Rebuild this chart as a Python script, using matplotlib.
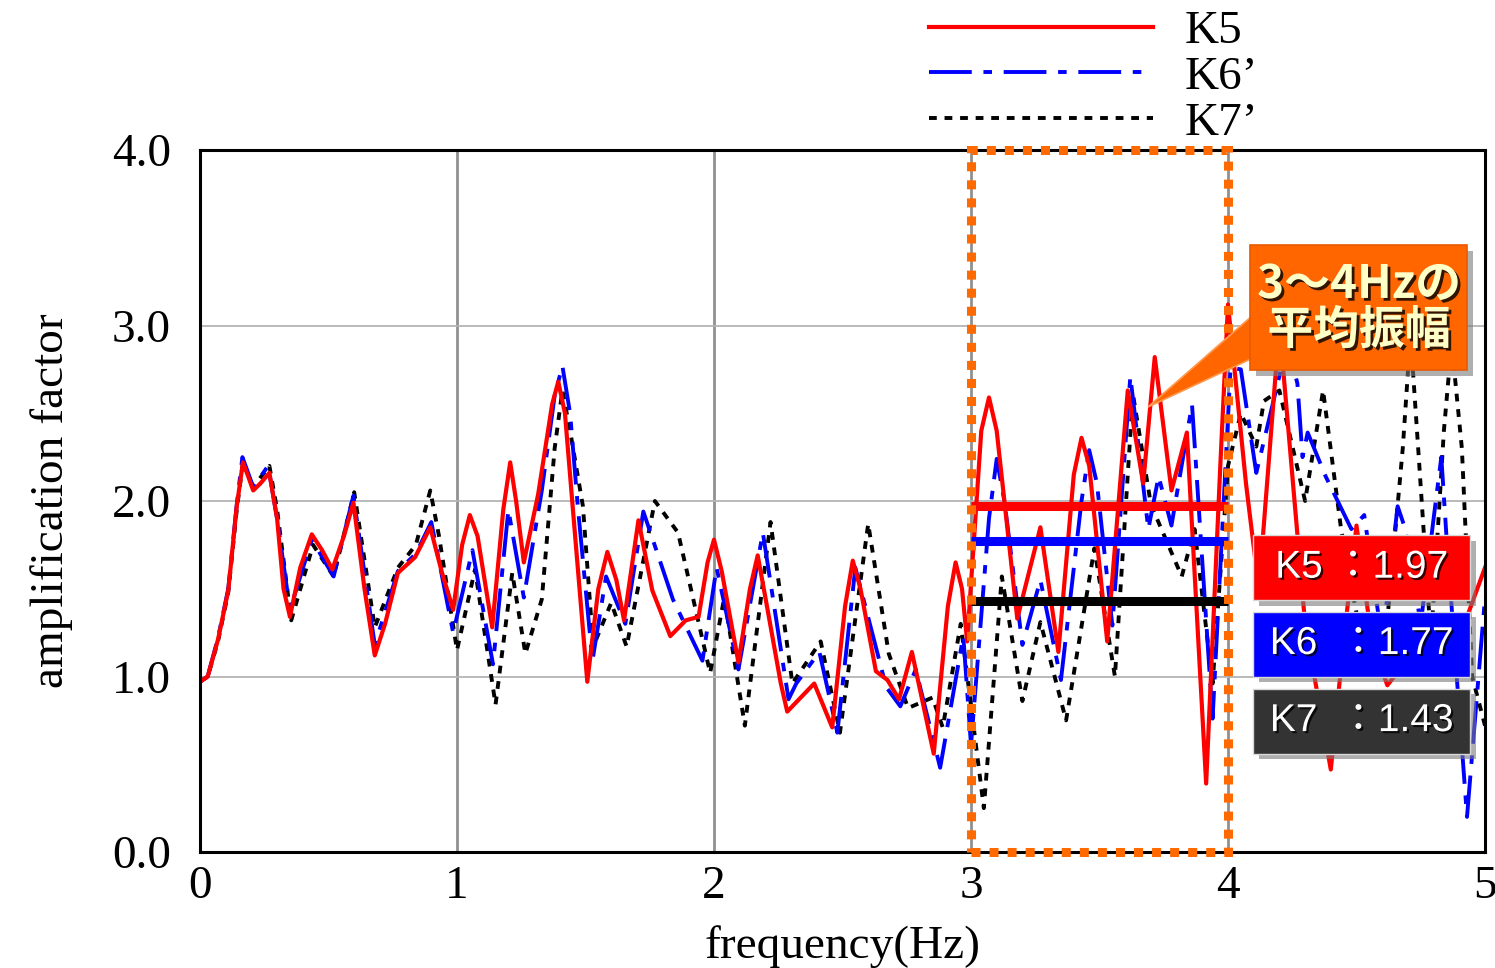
import matplotlib
matplotlib.use('Agg')
import matplotlib.pyplot as plt
import matplotlib.patheffects as pe
from matplotlib.patches import Rectangle, Polygon

plt.rcParams['font.family'] = ['Liberation Serif', 'Noto Sans CJK JP', 'DejaVu Sans']

# K5 (red, solid)
k5_f = [0.0, 0.03, 0.07, 0.11, 0.143, 0.167, 0.185, 0.207, 0.235, 0.27, 0.3, 0.325, 0.35, 0.39,
        0.435, 0.475, 0.515, 0.56, 0.597, 0.64, 0.68, 0.72, 0.77, 0.837, 0.896, 0.94, 0.985,
        1.02, 1.05, 1.08, 1.137, 1.18, 1.207, 1.23, 1.26, 1.316, 1.37, 1.394, 1.42, 1.45,
        1.507, 1.55, 1.585, 1.62, 1.65, 1.706, 1.76, 1.83, 1.89, 1.94, 1.975, 2.0, 2.03,
        2.095, 2.14, 2.17, 2.2, 2.26, 2.285, 2.39, 2.46, 2.51, 2.54, 2.57, 2.63, 2.675, 2.72,
        2.77, 2.855, 2.91, 2.94, 2.965, 2.985, 3.04, 3.07, 3.1, 3.18, 3.27, 3.34, 3.40, 3.43,
        3.46, 3.53, 3.61, 3.67, 3.715, 3.78, 3.84, 3.915, 3.97, 4.0, 4.07, 4.12, 4.2, 4.3,
        4.4, 4.45, 4.5, 4.56, 4.62, 4.7, 4.78, 4.85, 4.92, 5.0]
k5_a = [0.97, 1.0, 1.21, 1.49, 1.97, 2.22, 2.15, 2.06, 2.1, 2.16, 1.9, 1.5, 1.34, 1.62,
        1.81, 1.72, 1.61, 1.8, 1.99, 1.5, 1.12, 1.3, 1.59, 1.68, 1.85, 1.6, 1.38,
        1.75, 1.92, 1.8, 1.28, 1.95, 2.22, 2.0, 1.65, 2.04, 2.55, 2.68, 2.5, 1.97,
        0.97, 1.5, 1.71, 1.55, 1.32, 1.89, 1.49, 1.23, 1.32, 1.34, 1.65, 1.78, 1.6,
        1.08, 1.5, 1.69, 1.45, 0.96, 0.8, 0.96, 0.71, 1.4, 1.66, 1.5, 1.03, 0.98, 0.87,
        1.14, 0.56, 1.4, 1.65, 1.5, 1.2, 2.4, 2.59, 2.4, 1.33, 1.85, 1.14, 2.15, 2.36,
        2.2, 1.2, 2.63, 2.1, 2.82, 2.06, 2.39, 0.39, 2.2, 3.12, 2.1, 1.5, 3.0, 1.3,
        0.47, 1.2, 1.86, 1.2, 0.95, 1.1, 1.35, 1.05, 1.3, 1.62]

# K6' (blue, dash-dot)
k6_f = [0.0, 0.03, 0.07, 0.11, 0.143, 0.165, 0.207, 0.265, 0.3, 0.35, 0.435, 0.52, 0.597,
        0.68, 0.77, 0.84, 0.9, 0.985, 1.06, 1.14, 1.2, 1.26, 1.33, 1.38, 1.41, 1.44, 1.47,
        1.527, 1.58, 1.655, 1.725, 1.84, 1.955, 2.01, 2.095, 2.19, 2.29, 2.32, 2.41, 2.48,
        2.55, 2.67, 2.725, 2.785, 2.88, 2.97, 3.0, 3.07, 3.1, 3.13, 3.2, 3.27, 3.35, 3.43,
        3.46, 3.49, 3.55, 3.62, 3.69, 3.73, 3.78, 3.86, 3.94, 4.01, 4.05, 4.11, 4.19, 4.23,
        4.27, 4.29, 4.31, 4.38, 4.48, 4.53, 4.6, 4.66, 4.69, 4.75, 4.8, 4.83, 4.85, 4.93, 5.0]
k6_a = [0.97, 1.0, 1.22, 1.5, 1.98, 2.25, 2.08, 2.2, 1.9, 1.38, 1.78, 1.57, 2.03,
        1.18, 1.6, 1.7, 1.88, 1.25, 1.72, 1.07, 1.95, 1.45, 2.06, 2.6, 2.77, 2.5, 1.97,
        1.09, 1.57, 1.3, 1.94, 1.44, 1.09, 1.62, 1.04, 1.82, 0.87, 0.96, 1.14, 0.68,
        1.62, 0.94, 0.83, 1.04, 0.48, 1.23, 0.61, 1.9, 2.24, 2.0, 1.18, 1.55, 0.98, 2.0,
        2.29, 2.1, 1.29, 2.71, 1.84, 2.14, 1.86, 2.55, 0.76, 2.76, 2.75, 2.16, 2.65, 2.9,
        2.67, 2.25, 2.39, 2.14, 1.84, 1.92, 1.2, 1.97, 1.84, 1.3, 1.9, 2.25, 1.8, 0.2, 1.45]

# K7' (black, dotted)
k7_f = [0.0, 0.03, 0.07, 0.11, 0.143, 0.167, 0.207, 0.27, 0.3, 0.355, 0.44, 0.52, 0.6, 0.68,
        0.77, 0.84, 0.896, 0.93, 1.0, 1.07, 1.15, 1.215, 1.266, 1.33, 1.38, 1.41, 1.44, 1.49,
        1.53, 1.6, 1.66, 1.77, 1.86, 1.985, 2.04, 2.12, 2.22, 2.305, 2.415, 2.49, 2.6, 2.68,
        2.755, 2.85, 2.89, 2.96, 3.05, 3.12, 3.2, 3.27, 3.37, 3.48, 3.56, 3.63, 3.7, 3.82,
        3.87, 3.94, 4.0, 4.05, 4.11, 4.14, 4.2, 4.3, 4.37, 4.44, 4.52, 4.6, 4.68, 4.71, 4.74,
        4.79, 4.84, 4.87, 4.91, 4.95, 5.0]
k7_a = [0.97, 1.0, 1.2, 1.48, 1.95, 2.22, 2.08, 2.2, 1.95, 1.32, 1.75, 1.57, 2.05, 1.28,
        1.62, 1.75, 2.06, 1.8, 1.15, 1.61, 0.84, 1.59, 1.13, 1.44, 2.3, 2.63, 2.4, 1.97,
        1.17, 1.42, 1.17, 2.0, 1.82, 1.02, 1.45, 0.72, 1.88, 0.96, 1.2, 0.68, 1.87, 1.13,
        0.82, 0.88, 0.71, 1.3, 0.25, 1.57, 0.86, 1.31, 0.75, 1.73, 1.0, 2.61, 1.98, 1.57,
        1.84, 0.96, 2.2, 2.5, 2.31, 2.57, 2.63, 2.0, 2.63, 1.84, 1.2, 1.0, 2.3, 2.95, 2.3,
        1.2, 2.4, 2.9, 2.3, 1.0, 0.72]

series_names = ['K5', 'K6\u2019', 'K7\u2019']
mean_labels = ['K5 \uff1a1.97', 'K6  \uff1a1.77', 'K7  \uff1a1.43']
mean_values = [1.97, 1.77, 1.43]
band = (3.0, 4.0)

fig = plt.figure(figsize=(14.95, 9.68), dpi=100)
ax = fig.add_axes([200 / 1495, 1 - 852 / 968, 1285 / 1495, 702 / 968])

ax.plot(k7_f, k7_a, color='black', lw=2.8, ls=(0, (2.0, 2.0)), label=series_names[2], zorder=3)
ax.plot(k6_f, k6_a, color='#0000ff', lw=2.8, ls=(0, (11, 3, 2.2, 3)), label=series_names[1], zorder=4)
ax.plot(k5_f, k5_a, color='#ff0000', lw=3.0, label=series_names[0], zorder=5)

# mean amplitude lines in the 3-4 Hz band
for m, c in zip(mean_values, ['#ff0000', '#0000ff', 'black']):
    ax.hlines(m, band[0], band[1], colors=c, lw=6.5, zorder=6)

ax.set_xlim(0, 5)
ax.set_ylim(0, 4)
ax.set_xticks(range(6))
ax.set_yticks([0, 1, 2, 3, 4])
ax.set_yticklabels(['0.0', '1.0', '2.0', '3.0', '4.0'])
ax.tick_params(length=0, labelsize=34)
ax.tick_params(axis='y', pad=21)
ax.tick_params(axis='x', pad=10)
ax.yaxis.grid(True, color='#b4b4b4', lw=1.3)
ax.xaxis.grid(True, color='#909090', lw=2)
ax.set_axisbelow(True)
for s in ax.spines.values():
    s.set_linewidth(2.2)
    s.set_zorder(7)

ax.set_xlabel('frequency(Hz)', fontsize=34, labelpad=12)
ax.set_ylabel('amplification factor', fontsize=34, labelpad=28)

# orange dotted frame for 3-4 Hz
ax.add_patch(Rectangle((band[0], 0), band[1] - band[0], 4, fill=False, ec='#ff6a00',
                       lw=6.5, ls=(0, (1.0, 1.0)), clip_on=False, zorder=8))

# legend above the plot
handles, labels = ax.get_legend_handles_labels()
order = [2, 1, 0]
leg = ax.legend([handles[i] for i in order], [labels[i] for i in order],
                loc='upper left', bbox_to_anchor=(905 / 1495, 1.014),
                bbox_transform=fig.transFigure, frameon=False, fontsize=34,
                handlelength=4.75, handletextpad=0.68, labelspacing=0.06, borderpad=0.0)

# callout
shadow = pe.SimplePatchShadow(offset=(4, -4), shadow_rgbFace='#7a7a7a', alpha=0.6)
ax.add_patch(Polygon([(3.689, 2.536), (4.09, 3.05), (4.09, 2.81)], closed=True,
                     fc='#ff6600', ec='#ff9a50', lw=1.2, zorder=9, clip_on=False))
ax.add_patch(Rectangle((4.086, 2.746), 0.845, 0.713, fc='#ff6600', ec='#e85a00', lw=1.2,
                       zorder=10, path_effects=[shadow, pe.Normal()]))
ax.text(4.51, 3.10, '3\uff5e4Hz\u306e\n\u5e73\u5747\u632f\u5e45', ha='center', va='center',
        fontsize=33, fontweight='bold', color='#ffffc8', family=['Noto Sans CJK JP'],
        linespacing=1.0, zorder=11,
        path_effects=[pe.SimplePatchShadow(offset=(2, -2), shadow_rgbFace='black', alpha=0.8),
                      pe.Normal()])

# mean value boxes
box_colors = ['#ff0000', '#0000ff', '#333333']
box_y = [1.62, 1.185, 0.746]
for lab, c, yc in zip(mean_labels, box_colors, box_y):
    ax.add_patch(Rectangle((4.098, yc - 0.185), 0.845, 0.37, fc=c, ec='#d8d8d8', lw=1.0,
                           zorder=10, path_effects=[shadow, pe.Normal()]))
    ax.text(4.52, yc, lab, ha='center', va='center', fontsize=28, color='white',
            family=['Liberation Sans', 'Noto Sans CJK JP'], zorder=11,
            path_effects=[pe.SimplePatchShadow(offset=(1.5, -1.5), shadow_rgbFace='black', alpha=0.8),
                          pe.Normal()])

fig.savefig('out.png', dpi=100)
